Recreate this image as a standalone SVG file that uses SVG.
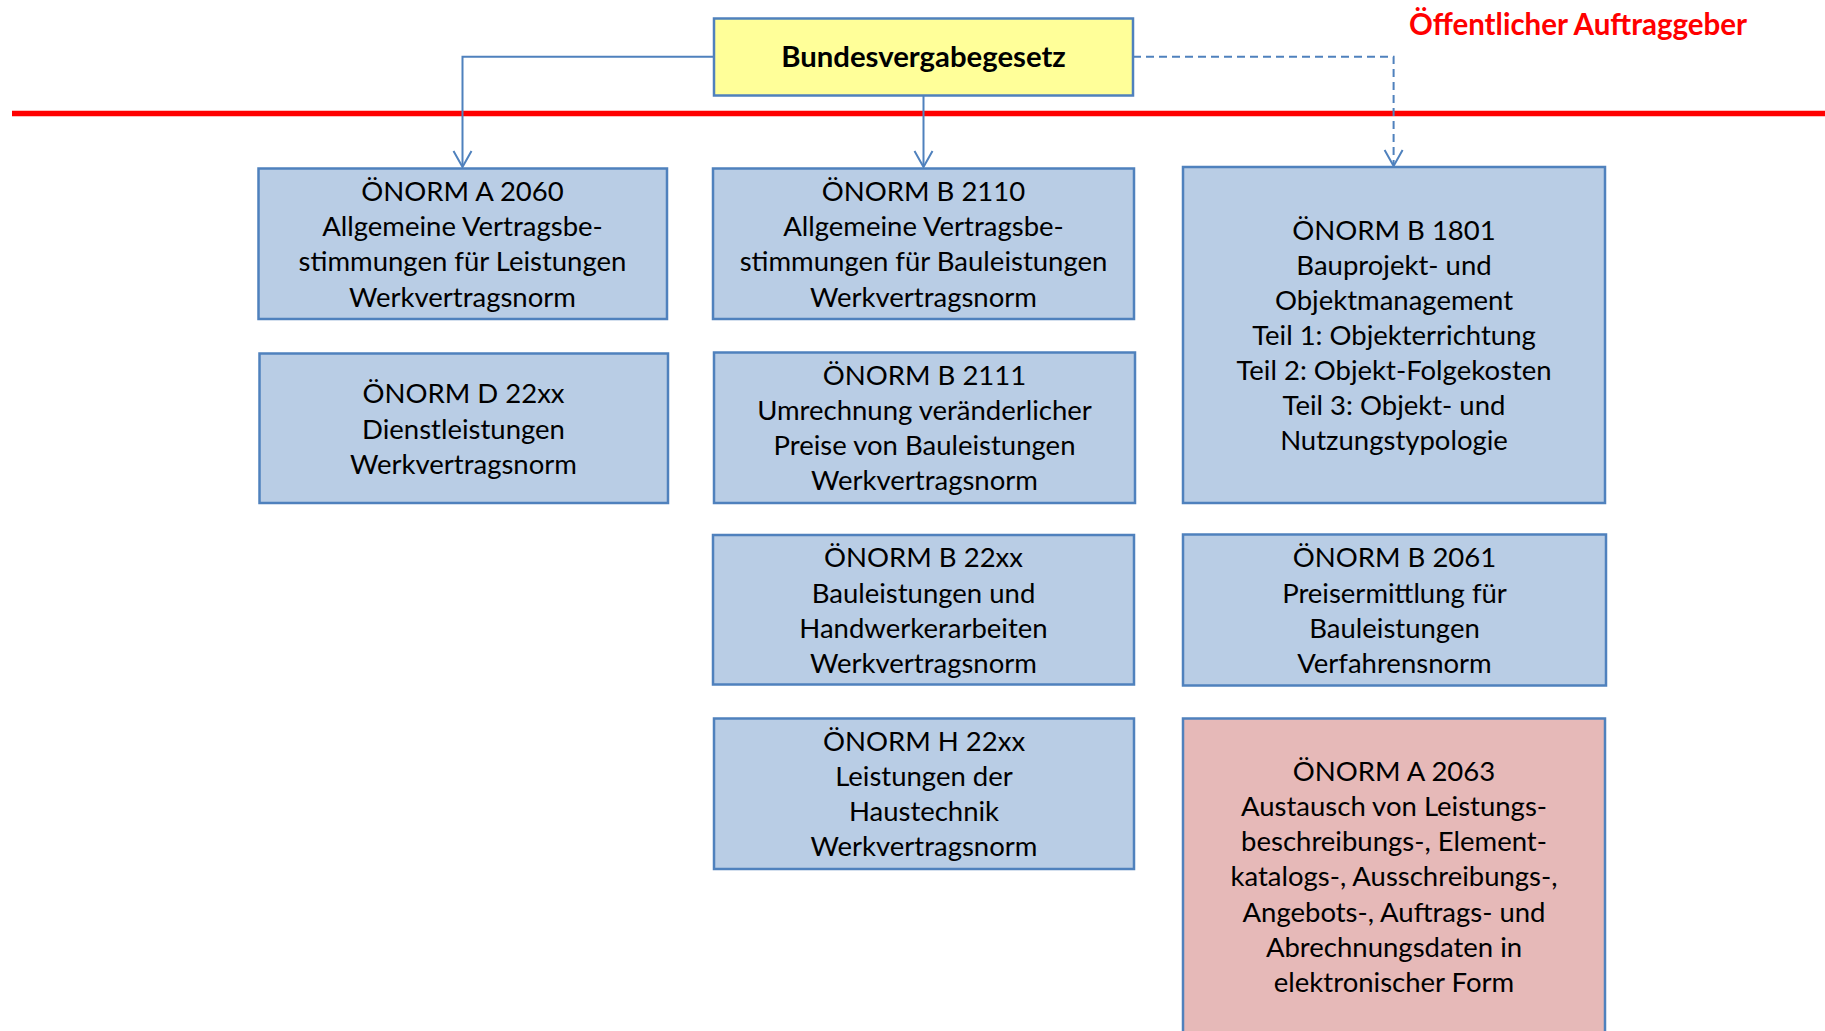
<svg xmlns="http://www.w3.org/2000/svg" width="1825" height="1031" viewBox="0 0 1825 1031">
<defs>
<style>
.box{fill:#B9CDE5;stroke:#4F81BD;stroke-width:2.5}
.yel{fill:#FFFF99;stroke:#4F81BD;stroke-width:2.5}
.pink{fill:#E6B9B8;stroke:#4F81BD;stroke-width:2.5}
.t{font-family:Lato,"Open Sans",sans-serif;font-size:27.5px;fill:#000;text-anchor:middle}
.b{font-weight:bold}
.con{fill:none;stroke:#4F81BD;stroke-width:2}
.ah{fill:none;stroke:#4F81BD;stroke-width:2}
</style>
</defs>
<rect width="1825" height="1031" fill="#fff"/>
<line x1="12" y1="113.5" x2="1825" y2="113.5" stroke="#FF0000" stroke-width="5.5"/>
<text x="1409" y="34.5" style="font-family:Lato,'Open Sans',sans-serif;font-size:29.5px;font-weight:bold;fill:#FF0000">Öffentlicher Auftraggeber</text>

<g id="connectors">
<path class="con" d="M714,56.7 H462.5 V166"/>
<path class="ah" d="M453.5,151 L462.5,167 L471.5,151"/>
<path class="con" d="M923.5,96 V166"/>
<path class="ah" d="M914.5,151 L923.5,167 L932.5,151"/>
<path class="con" d="M1133,56.7 H1393.6 V165" stroke-dasharray="8,5"/>
<path class="ah" d="M1384.6,150 L1393.6,166 L1402.6,150"/>
</g>

<g id="bundesvergabegesetz">
<rect class="yel" x="714" y="18.5" width="419" height="77"/>
<text class="t b" x="923.5" y="67" style="font-size:29.3px">Bundesvergabegesetz</text>
</g>

<g id="a2060">
<rect class="box" x="258.5" y="168.5" width="408.5" height="150.5"/>
<text class="t"><tspan x="462.5" y="201">ÖNORM A 2060</tspan><tspan x="462.5" y="236.2">Allgemeine Vertragsbe-</tspan><tspan x="462.5" y="271.4">stimmungen für Leistungen</tspan><tspan x="462.5" y="306.6">Werkvertragsnorm</tspan></text>
</g>

<g id="d22xx">
<rect class="box" x="259.5" y="353.5" width="408.5" height="149.5"/>
<text class="t"><tspan x="463.5" y="403.3">ÖNORM D 22xx</tspan><tspan x="463.5" y="438.5">Dienstleistungen</tspan><tspan x="463.5" y="473.7">Werkvertragsnorm</tspan></text>
</g>

<g id="b2110">
<rect class="box" x="713" y="168.5" width="421" height="150.5"/>
<text class="t"><tspan x="923.5" y="201">ÖNORM B 2110</tspan><tspan x="923.5" y="236.2">Allgemeine Vertragsbe-</tspan><tspan x="923.5" y="271.4">stimmungen für Bauleistungen</tspan><tspan x="923.5" y="306.6">Werkvertragsnorm</tspan></text>
</g>

<g id="b2111">
<rect class="box" x="714" y="352.5" width="421" height="150.5"/>
<text class="t"><tspan x="924.5" y="384.5">ÖNORM B 2111</tspan><tspan x="924.5" y="419.7">Umrechnung veränderlicher</tspan><tspan x="924.5" y="454.9">Preise von Bauleistungen</tspan><tspan x="924.5" y="490.1">Werkvertragsnorm</tspan></text>
</g>

<g id="b22xx">
<rect class="box" x="713" y="535" width="421" height="149.5"/>
<text class="t"><tspan x="923.5" y="567.3">ÖNORM B 22xx</tspan><tspan x="923.5" y="602.5">Bauleistungen und</tspan><tspan x="923.5" y="637.7">Handwerkerarbeiten</tspan><tspan x="923.5" y="672.9">Werkvertragsnorm</tspan></text>
</g>

<g id="h22xx">
<rect class="box" x="714" y="718.5" width="420" height="150.5"/>
<text class="t"><tspan x="924" y="750.5">ÖNORM H 22xx</tspan><tspan x="924" y="785.7">Leistungen der</tspan><tspan x="924" y="820.9">Haustechnik</tspan><tspan x="924" y="856.1">Werkvertragsnorm</tspan></text>
</g>

<g id="b1801">
<rect class="box" x="1183" y="167" width="422" height="336"/>
<text class="t"><tspan x="1394" y="239.5">ÖNORM B 1801</tspan><tspan x="1394" y="274.6">Bauprojekt- und</tspan><tspan x="1394" y="309.7">Objektmanagement</tspan><tspan x="1394" y="344.8">Teil 1: Objekterrichtung</tspan><tspan x="1394" y="379.9">Teil 2: Objekt-Folgekosten</tspan><tspan x="1394" y="415">Teil 3: Objekt- und</tspan><tspan x="1394" y="450.1">Nutzungstypologie</tspan></text>
</g>

<g id="b2061">
<rect class="box" x="1183" y="534.5" width="423" height="151"/>
<text class="t"><tspan x="1394.5" y="567.3">ÖNORM B 2061</tspan><tspan x="1394.5" y="602.5">Preisermittlung für</tspan><tspan x="1394.5" y="637.7">Bauleistungen</tspan><tspan x="1394.5" y="672.9">Verfahrensnorm</tspan></text>
</g>

<g id="a2063">
<rect class="pink" x="1183" y="718.5" width="422" height="320"/>
<text class="t"><tspan x="1394" y="780.7">ÖNORM A 2063</tspan><tspan x="1394" y="815.9">Austausch von Leistungs-</tspan><tspan x="1394" y="851.1">beschreibungs-, Element-</tspan><tspan x="1394" y="886.3">katalogs-, Ausschreibungs-,</tspan><tspan x="1394" y="921.5">Angebots-, Auftrags- und</tspan><tspan x="1394" y="956.7">Abrechnungsdaten in</tspan><tspan x="1394" y="991.9">elektronischer Form</tspan></text>
</g>
</svg>
